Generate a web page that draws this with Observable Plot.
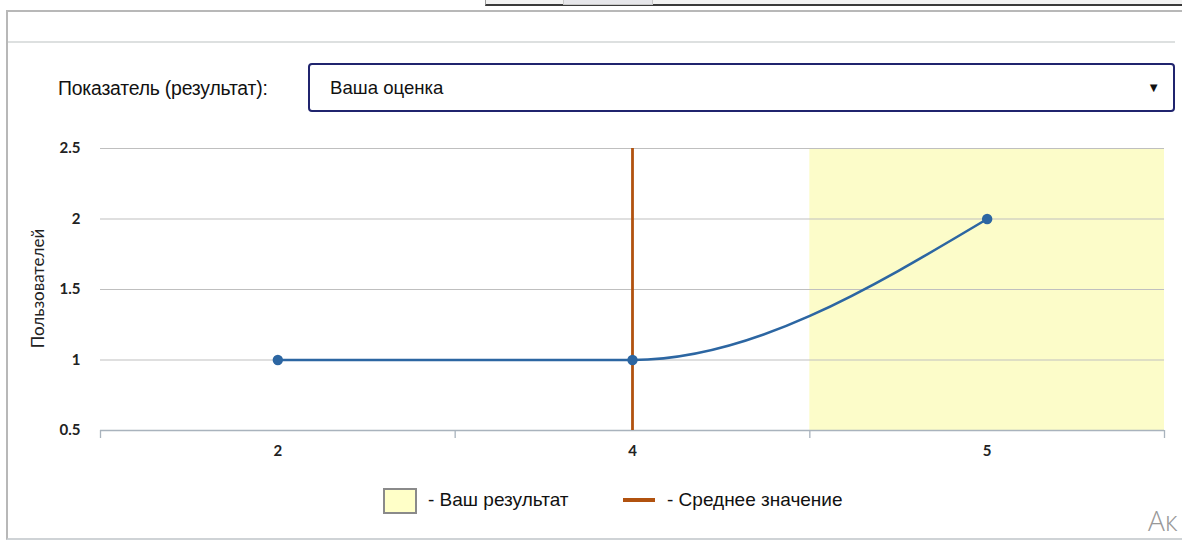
<!DOCTYPE html>
<html>
<head>
<meta charset="utf-8">
<script src="https://cdn.jsdelivr.net/npm/d3@7"></script>
<script src="https://cdn.jsdelivr.net/npm/@observablehq/plot@0.6"></script>
<style>
  html, body { margin: 0; padding: 0; background: #fff; width: 1182px; height: 541px; overflow: hidden; }
  body { position: relative; font-family: "Liberation Sans", Arial, sans-serif; color: #111; }
  .abs { position: absolute; }
  #winfrag { left: 485px; top: -4px; width: 720px; height: 8px; background: #f2f2f2; border-left: 1px solid #999; border-bottom: 2px solid #3a3a3a; }
  #winfrag2 { left: 563px; top: -4px; width: 88px; height: 7px; background: #e6e6ea; border: 1px solid #c8c8c8; }
  #box { left: 6px; top: 10px; width: 1200px; height: 526px; border-left: 2px solid #b8b8b8; border-top: 2px solid #b8b8b8; border-bottom: 2px solid #cfd3d6; }
  #sep { left: 8px; top: 41px; width: 1167px; height: 0; border-top: 2px solid #dde0e0; }
  #lbl { left: 58px; top: 77px; font-size: 19.4px; letter-spacing: -0.2px; }
  #sel { left: 308px; top: 63px; width: 863px; height: 45px; border: 2px solid #20246e; border-radius: 4px; }
  #seltext { left: 20px; top: 12px; font-size: 18.6px; }
  #arrow { right: 13px; top: 15px; font-size: 13px; }
  #chart { left: 0; top: 130px; }
  #leg1sw { left: 383px; top: 488px; width: 30px; height: 22px; background: #ffffc8; border: 2px solid #8a8a8a; }
  #leg1 { left: 428px; top: 489px; font-size: 19px; }
  #leg2sw { left: 623px; top: 498px; width: 32px; height: 4px; background: #b1520f; }
  #leg2 { left: 667px; top: 489px; font-size: 19px; }
  #wm { left: 1148px; top: 501px; font-size: 28px; font-weight: 300; color: #999; white-space: nowrap; font-family: "Open Sans", sans-serif; }
</style>
</head>
<body>
<div class="abs" id="winfrag"></div>
<div class="abs" id="winfrag2"></div>
<div class="abs" id="box"></div>
<div class="abs" id="sep"></div>
<div class="abs" id="lbl">Показатель (результат):</div>
<div class="abs" id="sel"><div class="abs" id="seltext">Ваша оценка</div><div class="abs" id="arrow">▼</div></div>
<div class="abs" id="chart"></div>
<div class="abs" id="leg1sw"></div>
<div class="abs" id="leg1">- Ваш результат</div>
<div class="abs" id="leg2sw"></div>
<div class="abs" id="leg2">- Среднее значение</div>
<div class="abs" id="wm">Ак</div>
<script>
// ---- data ----
const categories = ["2", "4", "5"];          // оценки (x axis categories)
const users = [1, 1, 2];                      // Пользователей per category
const yTicks = [0.5, 1, 1.5, 2, 2.5];
const yourResult = ["5"];                     // highlighted band
const averageValue = ["4"];                   // average marker
const yLabel = "Пользователей";

const pos = c => categories.indexOf(c) + 0.5; // band centre in category units
const points = categories.map((c, i) => ({c, v: users[i]}));

const blue = "#2c66a2";
const brown = "#b1520f";
const axisCol = "#a9b3bd";

const chart = Plot.plot({
  width: 1182,
  height: 340,
  marginLeft: 100,
  marginRight: 18,
  marginTop: 18,
  marginBottom: 40,
  style: {fontFamily: "Lato, 'Open Sans', sans-serif", fontSize: "12px", color: "#222", background: "transparent"},
  x: {type: "linear", domain: [0, categories.length], axis: null},
  y: {domain: [0.5, 2.5], axis: null},
  marks: [
    Plot.rect(yourResult, {x1: c => pos(c) - 0.5, x2: c => pos(c) + 0.5, y1: 0.5, y2: 2.5, fill: "#fcfcc9"}),
    Plot.gridY(yTicks.slice(1), {stroke: "#bfbfbf", strokeOpacity: 1, strokeWidth: 1.2}),
    Plot.axisY(yTicks, {label: null, tickSize: 0, tickPadding: 20, fontWeight: "bold", fontSize: 15, tickFormat: d => String(d)}),
    Plot.text([yLabel], {frameAnchor: "left", textAnchor: "middle", dx: -62, dy: -1, rotate: -90, fontSize: 17, letterSpacing: 0.6, fill: "#222"}),
    Plot.ruleY([0.5], {stroke: axisCol, strokeWidth: 1.5}),
    Plot.axisX(d3.range(categories.length + 1), {label: null, tickSize: 8, stroke: axisCol, strokeWidth: 1.3, tickFormat: () => ""}),
    Plot.axisX(categories.map(pos), {label: null, tickSize: 0, tickPadding: 15, fontWeight: "bold", fontSize: 15, tickFormat: d => categories[d - 0.5]}),
    Plot.ruleX(averageValue, {x: pos, y1: 0.5, y2: 2.5, stroke: brown, strokeWidth: 2.8}),
    Plot.line(points, {x: d => pos(d.c), y: "v", stroke: blue, strokeWidth: 2.6, curve: "monotone-x"}),
    Plot.dot(points, {x: d => pos(d.c), y: "v", r: 5.2, fill: blue})
  ]
});
document.getElementById("chart").appendChild(chart);
</script>
</body>
</html>
